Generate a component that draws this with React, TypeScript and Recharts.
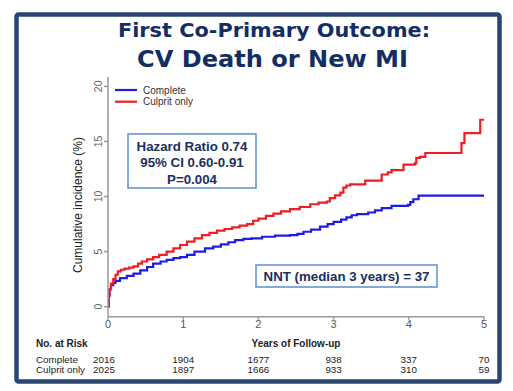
import React from "react";
import { LineChart, Line, XAxis, YAxis } from "recharts";

const culpritT = [0, 0.01, 0.02, 0.04, 0.07, 0.1, 0.13, 0.17, 0.22, 0.28, 0.34, 0.4, 0.45, 0.52, 0.6, 0.68, 0.78, 0.87, 0.96, 1.05, 1.15, 1.25, 1.35, 1.45, 1.55, 1.65, 1.75, 1.85, 1.93, 2.0, 2.1, 2.2, 2.3, 2.42, 2.55, 2.69, 2.8, 2.91, 2.95, 3.02, 3.09, 3.13, 3.17, 3.22, 3.42, 3.64, 3.72, 3.77, 3.93, 4.08, 4.1, 4.15, 4.22, 4.7, 4.74, 4.95, 5.0];
const culpritY = [0, 1.0, 1.6, 2.1, 2.5, 2.9, 3.2, 3.35, 3.45, 3.55, 3.65, 3.9, 4.1, 4.3, 4.5, 4.7, 5.0, 5.3, 5.6, 5.9, 6.2, 6.5, 6.7, 6.9, 7.05, 7.2, 7.35, 7.5, 7.8, 8.0, 8.25, 8.45, 8.65, 8.85, 9.05, 9.3, 9.45, 9.55, 9.85, 10.1, 10.35, 10.8, 11.0, 11.1, 11.45, 12.0, 12.2, 12.4, 12.9, 13.0, 13.5, 13.6, 13.95, 14.85, 15.76, 16.97, 16.97];

const completeT = [0, 0.01, 0.02, 0.04, 0.07, 0.1, 0.16, 0.25, 0.34, 0.43, 0.52, 0.6, 0.7, 0.78, 0.87, 0.96, 1.05, 1.15, 1.29, 1.4, 1.5, 1.6, 1.69, 1.8, 1.91, 2.05, 2.22, 2.42, 2.52, 2.6, 2.7, 2.82, 2.92, 3.0, 3.1, 3.17, 3.24, 3.31, 3.46, 3.55, 3.64, 3.77, 3.99, 4.02, 4.06, 4.13, 5.0];
const completeY = [0, 1.0, 1.6, 1.95, 2.15, 2.35, 2.6, 2.8, 3.0, 3.3, 3.6, 3.9, 4.1, 4.25, 4.4, 4.5, 4.7, 5.0, 5.3, 5.45, 5.65, 5.85, 6.05, 6.15, 6.2, 6.35, 6.45, 6.5, 6.6, 6.8, 7.0, 7.27, 7.5, 7.7, 7.9, 8.1, 8.3, 8.4, 8.55, 8.75, 8.95, 9.15, 9.25, 9.5, 9.75, 10.08, 10.08];

const xTicks = [0, 1, 2, 3, 4, 5];
const yTicks = [0, 5, 10, 15, 20];
const riskComplete = [2016, 1904, 1677, 938, 337, 70];
const riskCulprit = [2025, 1897, 1666, 933, 310, 59];

const seriesNames = ["Complete", "Culprit only"];
const RED = "#ee1c24";
const BLUE = "#1c1ce6";

const culpritData = culpritT.map((t, i) => ({ t, y: culpritY[i] }));
const completeData = completeT.map((t, i) => ({ t, y: completeY[i] }));

const XTick = (props: any) => {
  const { x, y, payload } = props;
  const idx = xTicks.indexOf(payload.value);
  const dx = idx === 0 ? -4 : 0;
  return (
    <g>
      <text x={x} y={y + 6.5} textAnchor="middle" fontSize={11} fill="#555" fontFamily="Liberation Sans, Arial, sans-serif">
        {payload.value}
      </text>
      <text x={x + dx} y={y + 41.3} textAnchor="middle" fontSize={9.8} fill="#222" fontFamily="Liberation Sans, Arial, sans-serif">
        {riskComplete[idx]}
      </text>
      <text x={x + dx} y={y + 51.3} textAnchor="middle" fontSize={9.8} fill="#222" fontFamily="Liberation Sans, Arial, sans-serif">
        {riskCulprit[idx]}
      </text>
    </g>
  );
};

const YTick = (props: any) => {
  const { x, y, payload } = props;
  const cx = x - 3.5;
  return (
    <text
      x={cx}
      y={y}
      transform={`rotate(-90, ${cx}, ${y})`}
      textAnchor="middle"
      dominantBaseline="central"
      fontSize={10.5}
      fill="#666"
      fontFamily="Liberation Sans, Arial, sans-serif"
    >
      {payload.value}
    </text>
  );
};

export default function App() {
  const font = "Liberation Sans, Arial, sans-serif";
  return (
    <div style={{ position: "absolute", left: 0, top: 0, width: 513, height: 391, background: "#fff" }}>
      <LineChart width={513} height={391} margin={{ top: 77, right: 29, bottom: 54.3, left: 68 }}>
        <XAxis
          type="number"
          dataKey="t"
          domain={[0, 5]}
          ticks={xTicks}
          allowDataOverflow
          height={20}
          tickSize={3}
          tickMargin={2}
          stroke="#999"
          strokeWidth={1.5}
          tick={<XTick />}
        />
        <YAxis
          type="number"
          dataKey="y"
          domain={[-0.91, 20.85]}
          ticks={yTicks}
          allowDataOverflow
          width={40}
          tickSize={4}
          tickMargin={2}
          stroke="#999"
          strokeWidth={1.5}
          tick={<YTick />}
        />
        <Line data={completeData} dataKey="y" name={seriesNames[0]} type="stepAfter" stroke={BLUE} strokeWidth={2.2} dot={false} isAnimationActive={false} />
        <Line data={culpritData} dataKey="y" name={seriesNames[1]} type="stepAfter" stroke={RED} strokeWidth={2.2} dot={false} isAnimationActive={false} />
      </LineChart>
      <svg width={513} height={391} style={{ position: "absolute", left: 0, top: 0, pointerEvents: "none" }}>
        <rect x={16.5} y={14.5} width={483} height={367} rx={2} fill="none" stroke="#284671" strokeWidth={4.5} />
        <text x={274} y={36.5} textAnchor="middle" fontSize={20} fontWeight="bold" fill="#132e63" fontFamily="DejaVu Sans, Verdana, sans-serif" textLength={312} lengthAdjust="spacingAndGlyphs">
          First Co-Primary Outcome:
        </text>
        <text x={272.5} y={66.7} textAnchor="middle" fontSize={23.5} fontWeight="bold" fill="#132e63" fontFamily="DejaVu Sans, Verdana, sans-serif" textLength={271} lengthAdjust="spacingAndGlyphs">
          CV Death or New MI
        </text>
        {/* legend */}
        <line x1={115} x2={137} y1={90} y2={90} stroke={BLUE} strokeWidth={2.2} />
        <line x1={115} x2={137} y1={101.7} y2={101.7} stroke={RED} strokeWidth={2.2} />
        <text x={143} y={93.5} fontSize={10} fill="#333" fontFamily={font}>{seriesNames[0]}</text>
        <text x={143} y={105.2} fontSize={10} fill="#333" fontFamily={font}>{seriesNames[1]}</text>
        {/* y label */}
        <text x={77.5} y={205} transform="rotate(-90, 77.5, 205)" textAnchor="middle" dominantBaseline="central" fontSize={12} fill="#222" fontFamily={font}>
          Cumulative incidence (%)
        </text>
        {/* HR box */}
        <rect x={128} y={134} width={128} height={54} fill="#fff" stroke="#5b8fd0" strokeWidth={1.5} />
        <g fontSize={13.3} fontWeight="bold" fill="#1b2f5e" fontFamily={font} textAnchor="middle">
          <text x={192} y={150.8}>Hazard Ratio 0.74</text>
          <text x={192} y={167.4}>95% CI 0.60-0.91</text>
          <text x={192} y={184}>P=0.004</text>
        </g>
        {/* NNT box */}
        <rect x={256} y={265} width={181} height={22} fill="#fff" stroke="#5b8fd0" strokeWidth={1.5} />
        <text x={346.5} y={280.8} textAnchor="middle" fontSize={13.3} fontWeight="bold" fill="#1b2f5e" fontFamily={font}>
          NNT (median 3 years) = 37
        </text>
        {/* table labels */}
        <text x={36} y={347} fontSize={10} fontWeight="bold" fill="#222" fontFamily={font}>No. at Risk</text>
        <text x={296} y={347} textAnchor="middle" fontSize={10} fontWeight="bold" fill="#222" fontFamily={font}>Years of Follow-up</text>
        <text x={36} y={363} fontSize={9.8} fill="#222" fontFamily={font}>{seriesNames[0]}</text>
        <text x={36} y={373} fontSize={9.8} fill="#222" fontFamily={font}>{seriesNames[1]}</text>
      </svg>
    </div>
  );
}
